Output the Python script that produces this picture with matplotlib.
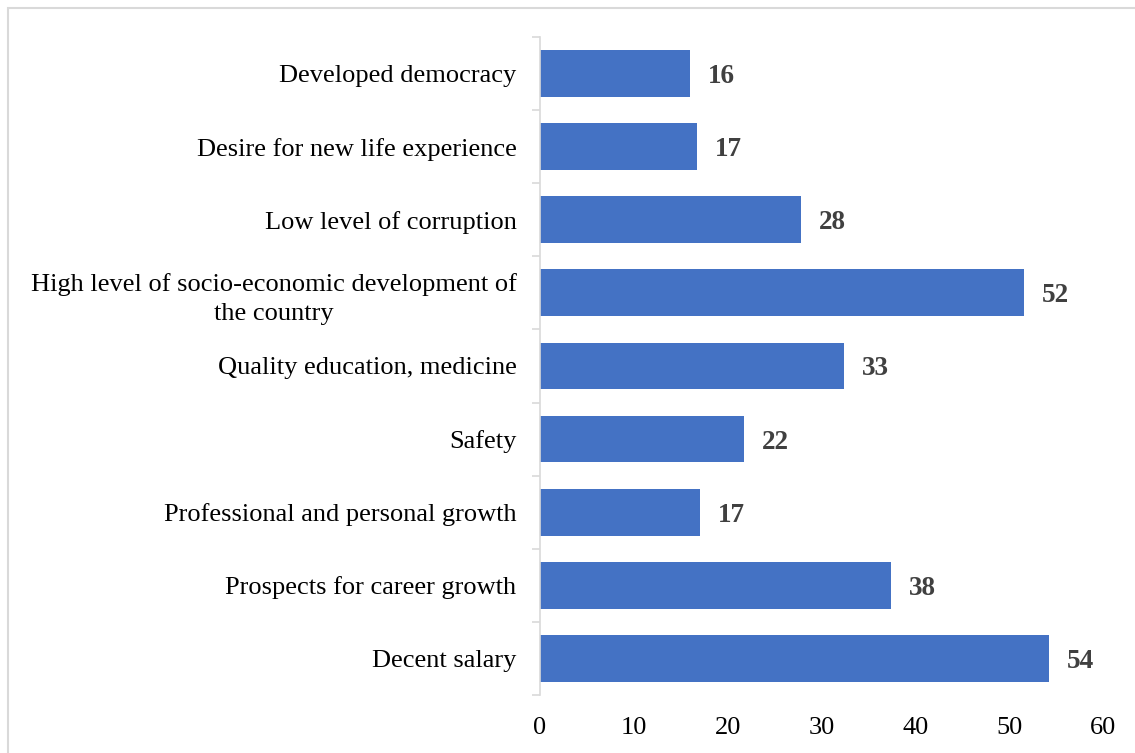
import matplotlib.pyplot as plt
from matplotlib.patches import Rectangle

# categories from bottom to top
categories = ['Decent salary', 'Prospects for career growth',
              'Professional and personal growth', 'Safety',
              'Quality education, medicine',
              'High level of socio-economic development of\nthe country',
              'Low level of corruption', 'Desire for new life experience',
              'Developed democracy']
values = [54.2, 37.4, 17.1, 21.7, 32.4, 51.6, 27.8, 16.7, 16.0]
labels = ['54', '38', '17', '22', '33', '52', '28', '17', '16']
xticks = [0, 10, 20, 30, 40, 50, 60]

plt.rcParams['font.family'] = ['Liberation Serif', 'DejaVu Serif']

fig = plt.figure(figsize=(11.35, 7.53), dpi=100)
ax = fig.add_axes([0.4758, 0.077, 0.496, 0.874])

pos = list(range(len(categories)))
ax.barh(pos, values, height=0.64, color='#4472C4')
for p, v, lab in zip(pos, values, labels):
    ax.text(v + 1.9, p, lab, va='center_baseline', ha='left', fontsize=19.5,
            fontweight='bold', color='#404040')

ax.set_xlim(0, 60)
ax.set_ylim(-0.5, len(categories) - 0.5)
ax.set_xticks(xticks)
ax.set_xticklabels([str(t) for t in xticks], fontsize=19)
ax.set_yticks(pos)
ax.set_yticklabels(categories, fontsize=19, linespacing=1.45)
for t in ax.get_yticklabels():
    t.set_multialignment('center')
ax.set_yticks([p - 0.5 for p in pos] + [len(pos) - 0.5], minor=True)

ax.tick_params(axis='x', length=0, pad=16)
ax.tick_params(axis='y', which='major', length=0, pad=17)
ax.tick_params(axis='y', which='minor', length=6, color='#D9D9D9', width=1.2)
for s in ['top', 'right', 'bottom']:
    ax.spines[s].set_visible(False)
ax.spines['left'].set_color('#D9D9D9')
ax.spines['left'].set_linewidth(1.2)

# outer chart border
fig.patches.append(Rectangle((8 / 1135, -0.01), 1.1, 1 - 8 / 753 + 0.01,
                             transform=fig.transFigure, fill=False,
                             edgecolor='#D9D9D9', linewidth=1.5))

fig.savefig('out.png', dpi=100)
